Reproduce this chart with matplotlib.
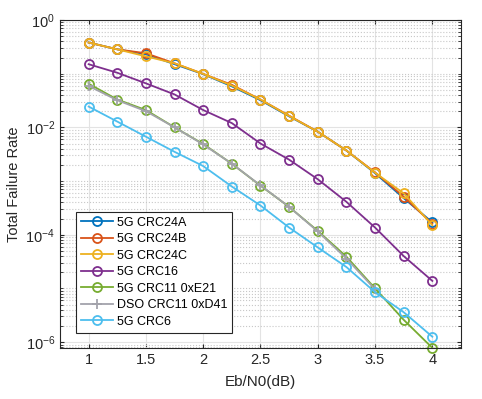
import numpy as np
import matplotlib
matplotlib.use("Agg")
import matplotlib.pyplot as plt
from matplotlib.ticker import FixedLocator, LogLocator, NullFormatter, LogFormatterMathtext

plt.rcParams['font.family'] = ['Liberation Sans', 'DejaVu Sans']
plt.rcParams['mathtext.fontset'] = 'custom'
plt.rcParams['mathtext.rm'] = 'Liberation Sans'

# Eb/N0 points
ebn0 = [1.0, 1.25, 1.5, 1.75, 2.0, 2.25, 2.5, 2.75, 3.0, 3.25, 3.5, 3.75, 4.0]

# failure rates
crc24a = [0.38, 0.284, 0.23, 0.150, 0.098, 0.058, 0.032, 0.0160, 0.0083, 0.0037, 0.00140, 4.8e-4, 1.7e-4]
crc24b = [0.38, 0.284, 0.24, 0.156, 0.099, 0.062, 0.033, 0.0165, 0.0083, 0.0037, 0.00145, 5.1e-4, 1.6e-4]
crc24c = [0.38, 0.284, 0.21, 0.156, 0.099, 0.060, 0.033, 0.0163, 0.0083, 0.0037, 0.00143, 5.9e-4, 1.5e-4]
crc16 = [0.15, 0.104, 0.066, 0.041, 0.021, 0.012, 0.0050, 0.0025, 0.00108, 4.1e-4, 1.36e-4, 4.0e-5, 1.38e-5]
crc11_e21 = [0.065, 0.033, 0.021, 0.010, 0.0049, 0.0021, 8.2e-4, 3.3e-4, 1.18e-4, 3.9e-5, 1.0e-5, 2.6e-6, 7.8e-7]
crc11_d41 = [0.059, 0.032, 0.020, 0.010, 0.0048, 0.0021, 8.3e-4, 3.3e-4, 1.15e-4, 3.6e-5, 9.6e-6, np.nan, np.nan]
crc6 = [0.0244, 0.0128, 0.0067, 0.0035, 0.0019, 7.9e-4, 3.5e-4, 1.36e-4, 5.8e-5, 2.5e-5, 8.5e-6, 3.6e-6, 1.26e-6]

labels = ['5G CRC24A', '5G CRC24B', '5G CRC24C', '5G CRC16',
          '5G CRC11 0xE21', 'DSO CRC11 0xD41', '5G CRC6']
colors = ['#0072BD', '#D95319', '#EDB120', '#7E2F8E', '#77AC30', '#A3A3AB', '#4DBEEE']
markers = ['o', 'o', 'o', 'o', 'o', '+', 'o']
series = [crc24a, crc24b, crc24c, crc16, crc11_e21, crc11_d41, crc6]

yticks = [1e-6, 1e-4, 1e-2, 1e0]
xticks = [1, 1.5, 2, 2.5, 3, 3.5, 4]

fig = plt.figure(figsize=(4.82, 3.99), dpi=100)
ax = fig.add_axes([0.1245, 0.1278, 0.8319, 0.8221])

for y, lab, c, m in zip(series, labels, colors, markers):
    ax.semilogy(ebn0, y, color=c, marker=m, markersize=6.5, markerfacecolor='none',
                markeredgewidth=1.3, linewidth=1.3, label=lab, clip_on=False)

ax.set_xlim(0.75, 4.25)
ax.set_ylim(10 ** -6.11, 1.0)
ax.set_xticks(xticks)
ax.set_xticklabels(['1', '1.5', '2', '2.5', '3', '3.5', '4'])
ax.yaxis.set_major_locator(FixedLocator(yticks))
ax.yaxis.set_major_formatter(LogFormatterMathtext(base=10.0))
ax.yaxis.set_minor_locator(LogLocator(base=10.0, subs=np.arange(1, 10), numticks=20))
ax.yaxis.set_minor_formatter(NullFormatter())

ax.grid(True, which='major', color='#E3E3E3', linestyle='-', linewidth=0.8)
ax.grid(True, which='minor', axis='y', color='#C8C8C8', linestyle=':', linewidth=0.8)
ax.set_axisbelow(True)

ax.tick_params(which='both', direction='in', top=True, right=True, colors='#262626',
               labelsize=10.5, length=3)
ax.tick_params(which='minor', length=2)
for s in ax.spines.values():
    s.set_color('#262626')
    s.set_linewidth(0.8)

ax.set_xlabel('Eb/N0(dB)', fontsize=11, color='#262626', labelpad=6)
ax.set_ylabel('Total Failure Rate', fontsize=10.5, color='#262626', labelpad=3)

leg = ax.legend(loc='lower left', bbox_to_anchor=(0.039, 0.047), borderaxespad=0,
                fontsize=9, fancybox=False, framealpha=1, edgecolor='#262626',
                handlelength=2.6, handletextpad=0.3, labelspacing=0.36,
                borderpad=0.4)
leg.get_frame().set_linewidth(0.8)

fig.savefig('out.png', dpi=100)
